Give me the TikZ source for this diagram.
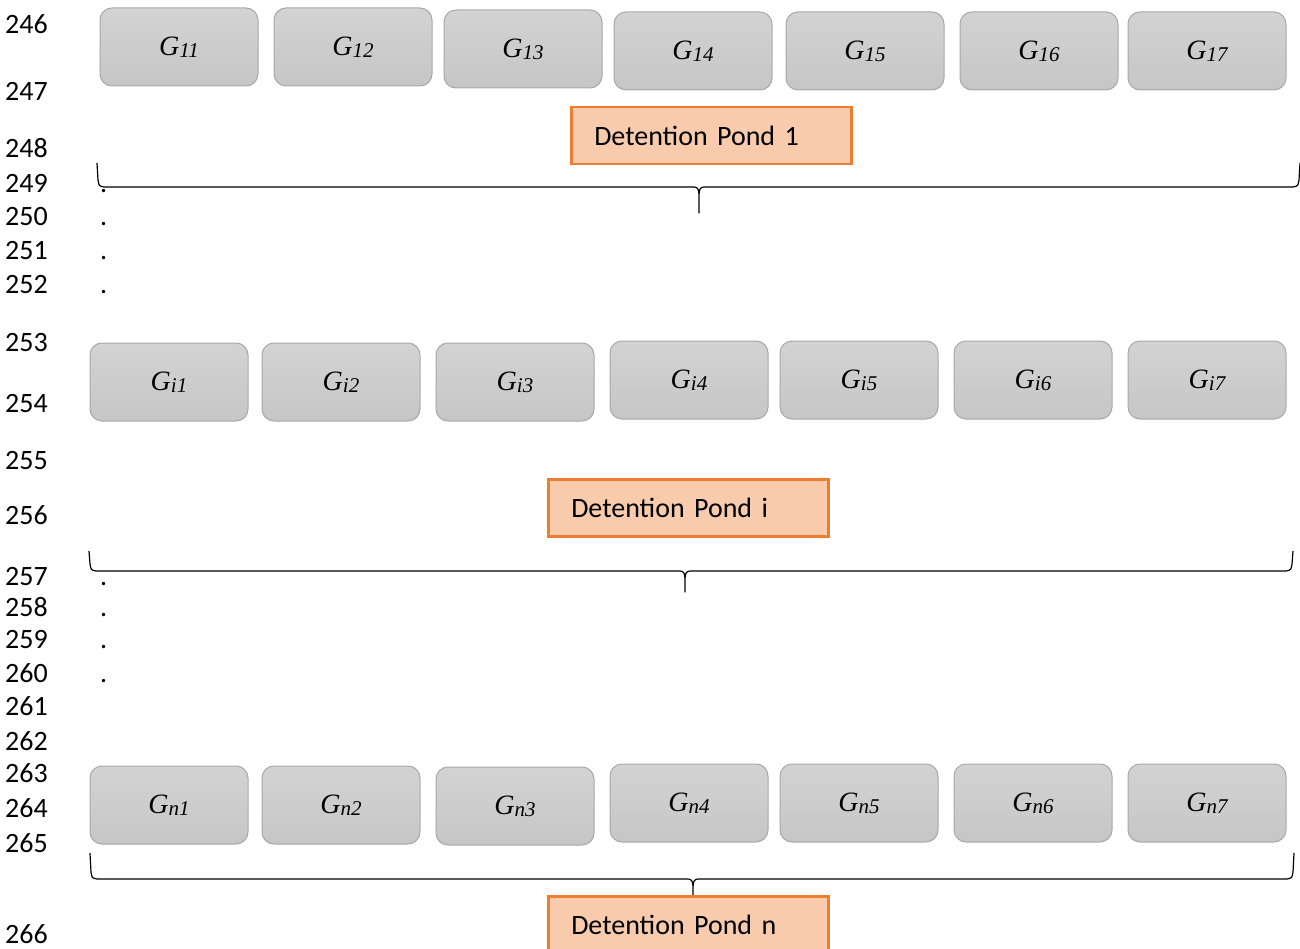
\documentclass[tikz,border=0pt]{standalone}
\usepackage{fontspec}
\setmainfont{Liberation Serif}
\newfontfamily\numfont{Carlito}

\definecolor{boxtop}{HTML}{D3D3D3}
\definecolor{boxbot}{HTML}{C6C6C6}
\definecolor{boxline}{HTML}{A8A8A8}
\definecolor{pondfill}{HTML}{F8CBAD}
\definecolor{pondline}{HTML}{ED7D31}

\tikzset{
  gbox/.style={rounded corners=12pt, draw=boxline, line width=1pt,
    top color=boxtop, bottom color=boxbot,
    minimum width=158pt, minimum height=78pt, inner sep=0pt},
  pond/.style={draw=pondline, fill=pondfill, line width=2.5pt,
    text width=234pt, align=left, inner xsep=23pt, inner ysep=0pt,
    minimum height=57pt, anchor=north west,
    font=\numfont\fontsize{28}{32}\selectfont},
  linenum/.style={anchor=base west, inner sep=0pt,
    font=\numfont\fontsize{28}{32}\selectfont},
  dotmark/.style={anchor=base west, inner sep=0pt,
    font=\numfont\fontsize{28}{32}\selectfont},
  bracket/.style={draw=black, line width=1.2pt, line join=round},
}

% G with an italic subscript index
\newcommand\glabel[1]{{\fontsize{28}{30}\selectfont\itshape G\raisebox{-2pt}{\fontsize{21}{23}\selectfont #1}}}

% brace: left end, right end, tip top, line level, middle x, spike bottom
\newcommand\pondbrace[6]{%
  \draw[bracket]
    (#1,#3) -- (#1+1,#4-7) .. controls (#1+2,#4-1) .. (#1+7,#4)
    -- (#5-5,#4) .. controls (#5-1,#4) and (#5,#4+3) .. (#5,#4+9)
    -- (#5,#6) -- (#5,#4+9)
    .. controls (#5,#4+3) and (#5+1,#4) .. (#5+5,#4)
    -- (#2-7,#4) .. controls (#2-2,#4-1) .. (#2-1,#4-7) -- (#2,#3);}

\begin{document}
\begin{tikzpicture}[x=1pt,y=-1pt]
\useasboundingbox[fill=white] (0,0) rectangle (1300,949);

% line numbers
\foreach \n/\b in {246/34,247/101,248/158,249/193,250/226,251/260,252/294,
  253/352,254/412,255/469,256/524,257/585,258/616,259/648,260/682,
  261/715,262/750,263/782,264/817,265/852,266/943}
  \node[linenum] (ln\n) at (5,\b) {\n};

% continuation dots
\foreach \b [count=\k] in {193,226,260,294,585,616,648,682}
  \node[dotmark] (dot\k) at (100,\b) {.};

% first group
\foreach \x/\y [count=\k] in {100/8,274/8,444/10,614/12,786/12,960/12,1128/12}
  \node[gbox] (ga\k) at (\x+79,\y+39) {\glabel{1\k}};
\node[pond] (pond1) at (570,106) {Detention Pond 1};
\pondbrace{97}{1300}{163}{187}{699}{213}

% i-th group
\foreach \x/\y [count=\k] in {90/343,262/343,436/343,610/341,780/341,954/341,1128/341}
  \node[gbox] (gi\k) at (\x+79,\y+39) {\glabel{i\k}};
\node[pond] (pondi) at (547,478) {Detention Pond i};
\pondbrace{89}{1293}{551}{571}{685}{592}

% n-th group
\foreach \x/\y [count=\k] in {90/766,262/766,436/767,610/764,780/764,954/764,1128/764}
  \node[gbox] (gn\k) at (\x+79,\y+39) {\glabel{n\k}};
\pondbrace{90}{1294}{853}{879}{693}{906}
\node[pond] (pondn) at (547,895) {Detention Pond n};
\end{tikzpicture}
\end{document}
